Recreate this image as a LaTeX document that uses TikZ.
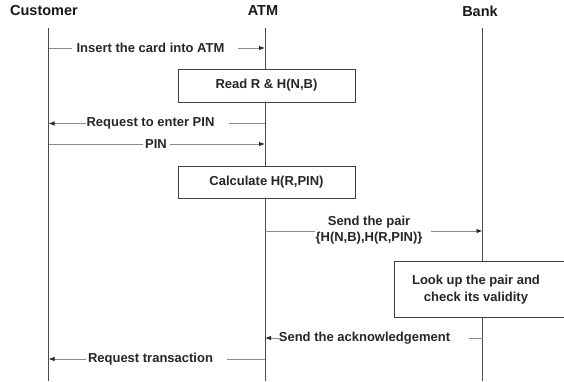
\documentclass[tikz,border=0pt]{standalone}
\usepackage{fontspec}
\setmainfont{Liberation Sans}
\usepackage{tikz}
\usetikzlibrary{calc,arrows.meta}

\begin{document}
\begin{tikzpicture}[x=1pt,y=-1pt,>={Latex[length=6pt,width=4.5pt,black!85]},
  actor/.style={font=\bfseries\fontsize{14.5}{16}\selectfont,text=black!90},
  life/.style={draw=black!70,line width=0.9pt},
  msgline/.style={draw=black!45,line width=0.9pt},
  msg/.style={font=\bfseries\fontsize{13}{15.5}\selectfont,text=black!85,inner sep=0pt,align=center},
  stepbox/.style={draw=black!75,fill=white,line width=0.8pt,font=\bfseries\fontsize{13}{17}\selectfont,text=black!85,align=center}]
\useasboundingbox (0,0) rectangle (564,381);
%Actors
\node[actor] (C) at (44,11) {Customer};
\node[actor] (A) at (263,11) {ATM};
\node[actor] (B) at (480,11) {Bank};
\coordinate (Ct) at (48.5,28);
\coordinate (Cb) at (48.5,381);
\coordinate (At) at (265,28);
\coordinate (Ab) at (265,381);
\coordinate (Bt) at (482.5,28);
\coordinate (Bb) at (482.5,381);
\draw[life] (Ct)--(Cb);
\draw[life] (At)--(Ab);
\draw[life] (Bt)--(Bb);
%Steps on the ATM and the Bank
\node[stepbox,minimum width=177pt,minimum height=33pt] (R) at (266.5,85.5) {Read R \& H(N,B)};
\node[stepbox,minimum width=177pt,minimum height=32pt] (K) at (266.5,182) {Calculate H(R,PIN)};
\node[stepbox,draw=none,minimum width=190pt,minimum height=55pt] (L) at (490,289.5) {Look up the pair and\hspace*{28pt}\\check its validity\hspace*{28pt}};
\draw[draw=black!75,line width=0.8pt] (L.north east)--(L.north west)--(L.south west)--(L.south east);
%Messages
\node[msg] (M1) at (150.5,48) {Insert the card into ATM};
\draw[msgline] (Ct|-M1)--([xshift=-4pt]M1.west);
\draw[msgline,->] ([xshift=13pt]M1.east)--(At|-M1);
\node[msg] (M2) at (150.5,123.5) {Request to enter PIN};
\draw[msgline,->] (M2.west)--(Ct|-M2);
\draw[msgline] ([xshift=14pt]M2.east)--(At|-M2);
\node[msg] (M3) at (156,144) {PIN};
\draw[msgline] (Ct|-M3)--([xshift=-2pt]M3.west);
\draw[msgline,->] ([xshift=3pt]M3.east)--(At|-M3);
\node[msg] (M4) at (369,230) {Send the pair\\\{H(N,B),H(R,PIN)\}};
\coordinate (P) at (0,231);
\draw[msgline] (At|-P)--(M4.west|-P);
\draw[msgline,->] ([xshift=8pt]M4.east|-P)--(Bt|-P);
\node[msg] (M5) at (364.5,338) {Send the acknowledgement};
\draw[msgline,->] (M5.west)--(At|-M5);
\draw[msgline] ([xshift=19pt]M5.east)--(Bt|-M5);
\node[msg] (M6) at (150.5,359) {Request transaction};
\draw[msgline,->] ([xshift=-2pt]M6.west)--(Ct|-M6);
\draw[msgline] ([xshift=14pt]M6.east)--(At|-M6);
\end{tikzpicture}
\end{document}
